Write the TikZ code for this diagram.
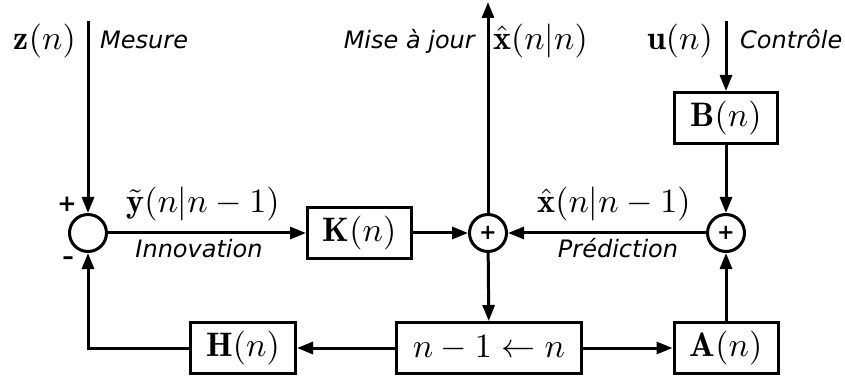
\documentclass[tikz,border=0pt]{standalone}
\usepackage{graphicx}
\usepackage{fontspec}
\newfontfamily\dv{DejaVu Sans}
\usetikzlibrary{arrows.meta}
\newcommand\mth[1]{\scalebox{3.4}{$#1$}}
\tikzset{
  ln/.style={line width=3pt},
  arr/.style={ln,-{Triangle[length=16pt,width=12pt]}},
  blk/.style={draw,ln,rectangle,inner sep=0pt,minimum height=51pt},
  sum/.style={draw,ln,circle,inner sep=0pt,minimum size=37pt,font=\dv\bfseries\fontsize{21}{22}\selectfont},
  mlab/.style={inner sep=0pt},
  tlab/.style={inner sep=0pt,font=\dv\itshape\fontsize{24}{28}\selectfont},
  sgn/.style={inner sep=0pt,font=\dv\bfseries\fontsize{23}{24}\selectfont}
}
\begin{document}
\begin{tikzpicture}[x=1pt,y=-1pt]
\useasboundingbox (0,0) rectangle (845,379);
% sums
\node[sum] (cL) at (88,233) {};
\node[sum] (cM) at (488,233) {+};
\node[sum] (cR) at (726,233) {+};
% blocks
\node[blk,minimum width=104pt] (K) at (359.5,233) {\mth{\mathbf{K}(n)}};
\node[blk,minimum width=105pt] (H) at (243,348) {\mth{\mathbf{H}(n)}};
\node[blk,minimum width=185pt] (D) at (489,348) {\mth{n-1\leftarrow n}};
\node[blk,minimum width=104pt] (A) at (726,348) {\mth{\mathbf{A}(n)}};
\node[blk,minimum width=103pt] (B) at (726,118) {\mth{\mathbf{B}(n)}};
% free ends
\coordinate (zin) at (88,21);
\coordinate (uin) at (726,21);
\coordinate (xout) at (488,2);
% connectors
\draw[arr] (zin) -- (cL);
\draw[arr] (cL) -- (K);
\draw[arr] (K) -- (cM);
\draw[arr] (cR) -- (cM);
\draw[arr] (cM) -- (xout);
\draw[arr] (cM) -- (D);
\draw[arr] (D) -- (H);
\draw[arr] (D) -- (A);
\draw[arr] (A) -- (cR);
\draw[arr] (B) -- (cR);
\draw[arr] (uin) -- (B);
\draw[arr] (H.west) -| (cL.south);
% labels
\node[mlab,anchor=base east] (lz) at (76,49.5) {\mth{\mathbf{z}(n)}};
\node[tlab,anchor=base west] (lmes) at (100,49) {Mesure};
\node[tlab,anchor=base east] (lmaj) at (475,48.5) {Mise à jour};
\node[mlab,anchor=base west] (lxnn) at (493,49.5) {\mth{\hat{\mathbf{x}}(n|n)}};
\node[mlab,anchor=base east] (lu) at (713,49.5) {\mth{\mathbf{u}(n)}};
\node[tlab,anchor=base west] (lctl) at (740,48.5) {Contrôle};
\node[mlab,anchor=base] (ly) at (203,213) {\mth{\tilde{\mathbf{y}}(n|n-1)}};
\node[tlab,anchor=base] (linn) at (199,258) {Innovation};
\node[mlab,anchor=base] (lxp) at (614,213) {\mth{\hat{\mathbf{x}}(n|n-1)}};
\node[tlab,anchor=base] (lpred) at (618,258) {Prédiction};
\node[sgn] (lplus) at (67,204) {+};
\node[sgn] (lminus) at (68,261) {–};
\end{tikzpicture}
\end{document}
